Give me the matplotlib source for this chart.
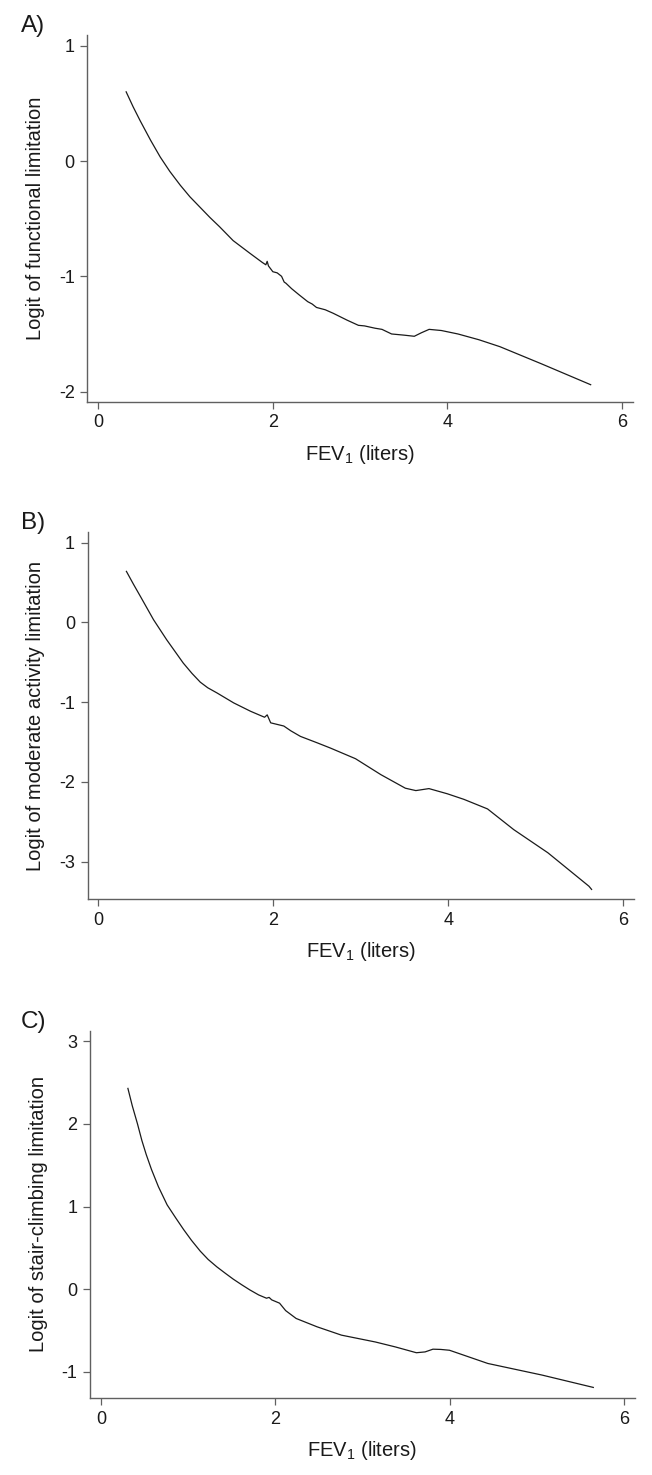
import matplotlib
matplotlib.use("Agg")
import matplotlib.pyplot as plt

plt.rcParams['font.family'] = ['Liberation Sans', 'DejaVu Sans']
plt.rcParams['mathtext.fontset'] = 'custom'
plt.rcParams['mathtext.rm'] = 'Liberation Sans'
plt.rcParams['axes.unicode_minus'] = False

# panel A - functional limitation
fev_a = [0.32, 0.40, 0.48, 0.60, 0.71, 0.82, 0.94, 1.05, 1.165, 1.28, 1.39, 1.545,
         1.737, 1.88, 1.92, 1.935, 1.95, 2.0, 2.05, 2.1, 2.13, 2.15, 2.215, 2.30, 2.40,
         2.45, 2.50, 2.60, 2.69, 2.85, 2.98, 3.05, 3.17, 3.25, 3.36, 3.50, 3.62, 3.70, 3.79,
         3.93, 4.12, 4.36, 4.60, 5.08, 5.64]
logit_a = [0.60, 0.47, 0.35, 0.18, 0.035, -0.09, -0.21, -0.31, -0.40, -0.49, -0.57, -0.69,
           -0.80, -0.88, -0.90, -0.87, -0.91, -0.96, -0.97, -1.0, -1.05, -1.06, -1.107, -1.16, -1.22,
           -1.24, -1.27, -1.29, -1.32, -1.38, -1.425, -1.43, -1.45, -1.46, -1.50, -1.51, -1.52,
           -1.49, -1.46, -1.47, -1.50, -1.55, -1.61, -1.76, -1.94]

# panel B - moderate activity limitation
fev_b = [0.32, 0.40, 0.48, 0.63, 0.78, 0.97, 1.07, 1.165, 1.25, 1.356, 1.547, 1.74, 1.90, 1.93,
         1.97, 2.12, 2.20, 2.31, 2.50, 2.65, 2.94, 3.23, 3.51, 3.63, 3.78, 3.99, 4.18,
         4.45, 4.75, 5.14, 5.61, 5.64]
logit_b = [0.64, 0.48, 0.326, 0.034, -0.217, -0.51, -0.64, -0.75, -0.82, -0.885, -1.01, -1.115,
           -1.19, -1.16, -1.26, -1.30, -1.36, -1.43, -1.51, -1.575, -1.71, -1.91, -2.08, -2.11,
           -2.085, -2.15, -2.22, -2.34, -2.60, -2.89, -3.31, -3.35]

# panel C - stair-climbing limitation
fev_c = [0.31, 0.36, 0.42, 0.47, 0.52, 0.58, 0.66, 0.76, 0.86, 0.95, 1.04, 1.14, 1.23,
         1.33, 1.43, 1.52, 1.62, 1.71, 1.81, 1.90, 1.93, 1.96, 2.05, 2.12, 2.24, 2.48,
         2.76, 3.15, 3.38, 3.62, 3.72, 3.81, 3.90, 4.0, 4.44, 5.06, 5.65]
logit_c = [2.43, 2.22, 2.00, 1.80, 1.63, 1.45, 1.24, 1.02, 0.86, 0.72, 0.59, 0.46, 0.36,
           0.27, 0.19, 0.12, 0.05, -0.01, -0.07, -0.11, -0.10, -0.13, -0.17, -0.26, -0.355, -0.456,
           -0.557, -0.64, -0.70, -0.77, -0.76, -0.727, -0.73, -0.74, -0.90, -1.04, -1.19]

panels = [
    ("A)", fev_a, logit_a, "Logit of functional limitation", [-2, -1, 0, 1], (-2.09, 1.093),
     [87.3, 35, 633]),
    ("B)", fev_b, logit_b, "Logit of moderate activity limitation", [-3, -2, -1, 0, 1], (-3.47, 1.134),
     [87.5, 532, 634]),
    ("C)", fev_c, logit_c, "Logit of stair-climbing limitation", [-1, 0, 1, 2, 3], (-1.318, 3.125),
     [90, 1031, 634.7]),
]

W, H = 652, 1475
fig = plt.figure(figsize=(W / 100, H / 100), dpi=100)
axis_gray = '#606060'

for letter, xs, ys, ylab, yt, ylim, box in panels:
    left, top, right = box
    ax = fig.add_axes([left / W, 1 - (top + 367) / H, (right - left) / W, 367 / H])
    ax.plot(xs, ys, color='#1a1a1a', lw=0.9)
    ax.set_xlim(-0.125, 6.125)
    ax.set_ylim(*ylim)
    ax.set_xticks([0, 2, 4, 6])
    ax.set_yticks(yt)
    for s in ['top', 'right']:
        ax.spines[s].set_visible(False)
    for s in ['left', 'bottom']:
        ax.spines[s].set_color(axis_gray)
        ax.spines[s].set_linewidth(1.0)
    ax.tick_params(direction='out', length=5, width=0.9, color=axis_gray,
                   labelsize=13, labelcolor='#1a1a1a', pad=4)
    ax.set_xlabel(r"FEV$_\mathregular{1}$ (liters)", fontsize=14.5, color='#1a1a1a', labelpad=8)
    ax.set_ylabel(ylab, fontsize=14.5, color='#1a1a1a', labelpad=10)
    fig.text(21 / W, 1 - (top - 3) / H, letter, fontsize=17.5, color='#1a1a1a',
             ha='left', va='baseline')

fig.savefig("out.png", dpi=100)
